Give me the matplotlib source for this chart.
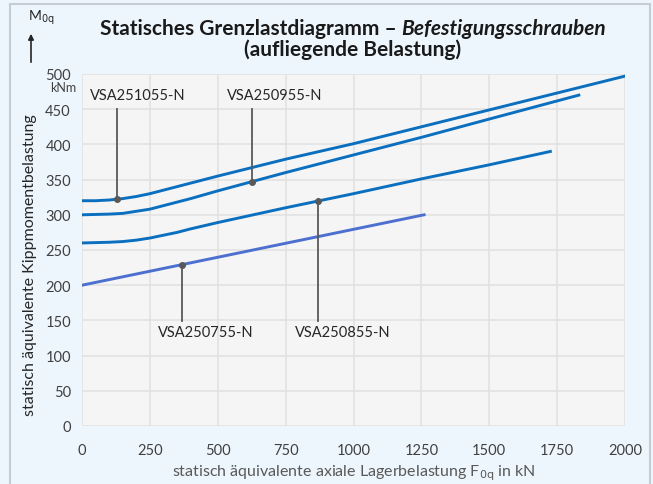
import matplotlib
matplotlib.use("Agg")
import matplotlib.pyplot as plt
from matplotlib.patches import Rectangle

# curve data (x in kN, y in kNm)
x_1055 = [0, 50, 100, 150, 200, 250, 300, 350, 400, 500, 750, 1000, 1250, 1500, 1750, 2000]
y_1055 = [320, 320, 321, 323, 326, 330, 335, 340, 345, 355, 379, 401, 425, 449, 473, 497]
x_0955 = [0, 100, 150, 200, 250, 300, 350, 400, 500, 625, 750, 1000, 1250, 1500, 1830]
y_0955 = [300, 301, 302, 305, 308, 313, 318, 323, 334, 347, 360, 385, 410, 436, 470]
x_0855 = [0, 100, 150, 200, 250, 300, 350, 400, 500, 750, 1000, 1250, 1500, 1725]
y_0855 = [260, 261, 262, 264, 267, 271, 275, 280, 289, 310, 330, 351, 371, 390]
x_0755 = [0, 1260]
y_0755 = [200, 300]

labels = ["VSA251055-N", "VSA250955-N", "VSA250755-N", "VSA250855-N"]
marker_pts = [(128, 322), (626, 347), (370, 229), (869, 320)]
label_pos = [(30, 470), (534, 470), (280, 134), (785, 134)]
leader_end = [450, 450, 149, 149]

xticks = [0, 250, 500, 750, 1000, 1250, 1500, 1750, 2000]
yticks = list(range(0, 501, 50))

W, H = 653, 485
bg = "#eef6fd"
fig = plt.figure(figsize=(W / 100, H / 100), dpi=100, facecolor=bg)
plt.rcParams['font.family'] = ['Lato', 'DejaVu Sans']

# outer panel border
fig.patches.append(Rectangle((10 / W, -0.02), 640 / W, 1.0 - 5 / H + 0.02,
                             transform=fig.transFigure, fill=False,
                             edgecolor="#c5ccd3", lw=1.5))

ax = fig.add_axes([82 / W, (H - 427) / H, (625 - 82) / W, (427 - 75) / H])
ax.set_facecolor("#f5f5f5")
ax.set_xlim(0, 2000)
ax.set_ylim(0, 500)
ax.set_xticks(xticks)
ax.set_yticks(yticks)
ax.grid(True, color="#e2e2e2", lw=1.2)
ax.set_axisbelow(True)
for s in ax.spines.values():
    s.set_visible(False)
ax.tick_params(length=0, labelsize=10.5, labelcolor="#404040", pad=8)
ax.tick_params(axis='x', pad=12)

blue = "#0b6fc0"
ax.plot(x_1055, y_1055, color=blue, lw=2.1)
ax.plot(x_0955, y_0955, color=blue, lw=2.1)
ax.plot(x_0855, y_0855, color=blue, lw=2.1)
ax.plot(x_0755, y_0755, color="#4d6fd0", lw=2.1)

for (mx, my), (tx, ty), ye, lab in zip(marker_pts, label_pos, leader_end, labels):
    ax.plot([mx, mx], [ye, my], color="#595959", lw=1.3)
    ax.plot(mx, my, 'o', color="#595959", ms=4)
    ax.text(tx, ty, lab, fontsize=10.5, color="#262626", va='center', ha='left')

ax.text(-0.01, 0.962, "kNm", transform=ax.transAxes, ha='right', va='center',
        fontsize=9, color="#404040")

ax.set_ylabel("statisch äquivalente Kippmomentbelastung", fontsize=11.5,
              color="#262626")
ax.yaxis.set_label_coords(-0.082, 0.46)
ax.set_xlabel(r"statisch äquivalente axiale Lagerbelastung F$_{\mathrm{0q}}$ in kN",
              fontsize=11.5, color="#595959", labelpad=4)

# title (two parts: regular bold + bold italic)
r = fig.canvas.get_renderer()
t1 = fig.text(0, 1 - 29 / H, "Statisches Grenzlastdiagramm – ", fontsize=15,
              fontweight='bold', color="#1a1a1a", va='center')
t2 = fig.text(0, 1 - 29 / H, "Befestigungsschrauben", fontsize=15,
              fontweight='bold', fontstyle='italic', color="#1a1a1a", va='center')
w1 = t1.get_window_extent(r).width
w2 = t2.get_window_extent(r).width
x0 = 353 - (w1 + w2) / 2
t1.set_x(x0 / W)
t2.set_x((x0 + w1) / W)
fig.text(353 / W, 1 - 50 / H, "(aufliegende Belastung)", fontsize=15,
         fontweight='bold', color="#1a1a1a", ha='center', va='center')

# M0q arrow label
fig.text(28 / W, 1 - 18 / H, r"M$_{\mathrm{0q}}$", fontsize=10, color="#262626", va='center')
ax.annotate("", xy=(31 / W, 1 - 32 / H), xytext=(31 / W, 1 - 66 / H),
            xycoords='figure fraction',
            arrowprops=dict(arrowstyle='-|>', color="#262626", lw=1.2,
                            mutation_scale=8))

fig.savefig("out.png", dpi=100, facecolor=bg)
